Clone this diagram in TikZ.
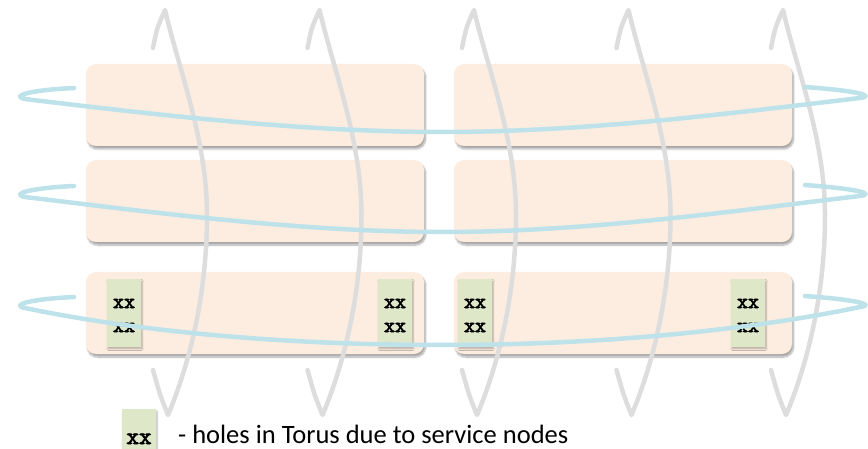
\documentclass[tikz,border=0pt]{standalone}
\usepackage{fontspec}
\setmainfont{Carlito}
\newfontfamily\holefont{lmmono10-regular.otf}[FakeBold=3]
\usetikzlibrary{shadows.blur}

\definecolor{boardfill}{RGB}{252,237,224}
\definecolor{holefill}{RGB}{222,231,200}
\definecolor{ringgray}{RGB}{221,221,221}
\definecolor{ringblue}{RGB}{190,226,234}

\begin{document}
\begin{tikzpicture}[x=1pt,y=-1pt,
		board/.style={fill=boardfill, rounded corners=10pt, minimum width=338pt, minimum height=82pt, inner sep=0pt,
			blur shadow={shadow xshift=1.5pt, shadow yshift=-3pt, shadow opacity=35, shadow blur steps=8}},
		hole/.style={fill=holefill, minimum width=34pt, minimum height=67pt, inner sep=0pt, align=center,
			font=\holefont\fontsize{21}{24}\selectfont,
			blur shadow={shadow xshift=1pt, shadow yshift=-2pt, shadow opacity=30, shadow blur steps=5}},
		vring/.style={draw=ringgray, line width=4.5pt, line cap=round, line join=round,
			preaction={draw=black!60, draw opacity=0.15, transform canvas={xshift=1.2pt, yshift=-1pt}}},
		hring/.style={draw=ringblue, line width=4.5pt, line cap=round, line join=round,
			preaction={draw=black!60, draw opacity=0.15, transform canvas={yshift=-1.5pt}}}]

	\useasboundingbox (0,0) rectangle (868,449);

	% the six boards
	\node[board] (b11) at (255,105) {};
	\node[board] (b12) at (623,105) {};
	\node[board] (b21) at (255,201) {};
	\node[board] (b22) at (623,201) {};
	\node[board] (b31) at (255,313) {};
	\node[board] (b32) at (623,313) {};

	% service nodes in the bottom row
	\node[hole] (h1) at (124,313) {\rule{0pt}{14pt}xx\\xx};
	\node[hole] (h2) at (395,313) {\rule{0pt}{14pt}xx\\xx};
	\node[hole] (h3) at (475,313) {\rule{0pt}{14pt}xx\\xx};
	\node[hole] (h4) at (748,313) {\rule{0pt}{14pt}xx\\xx};

	% vertical rings
	\foreach \x in {165,319.5,474,628.5,783}
		\draw[vring] (\x-12,48) .. controls (\x-8,28) .. (\x,10)
			.. controls (\x+14,70) and (\x+42,140) .. (\x+42,215)
			.. controls (\x+42,300) and (\x+22,370) .. (\x+3,415)
			.. controls (\x-5,395) .. (\x-12,370);

	% horizontal rings
	\foreach \y/\s/\c in {97/35/17,195/37/17,306/39/28}
		\draw[hring] (74,\y-9) .. controls (30,\y-7) and (10,\y-1) .. (25,\y+2)
			.. controls (150,\y+\c) and (300,\y+\s) .. (443,\y+\s)
			.. controls (590,\y+\s) and (740,\y+\c-2) .. (860,\y+1)
			.. controls (875,\y-1) and (860,\y-6) .. (805,\y-10);

	\node[hole, minimum height=42pt, anchor=north] (key) at (139,409) {};
	\node[anchor=base, inner sep=0pt, font=\holefont\fontsize{24}{24}\selectfont] (keyxx) at (139,444) {xx};
	\node[anchor=base west, font=\fontsize{26.5}{30}\selectfont, inner sep=0pt] (keytext) at (178,443) {- holes in Torus due to service nodes};
\end{tikzpicture}
\end{document}
